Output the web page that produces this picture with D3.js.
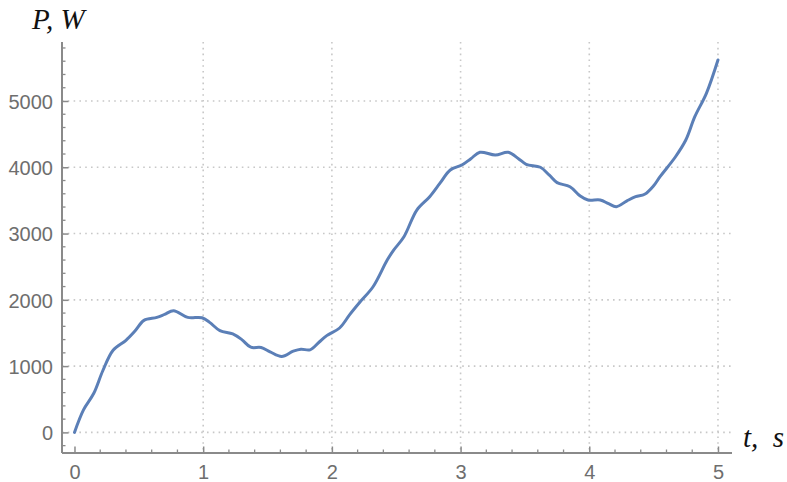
<!DOCTYPE html>
<html>
<head>
<meta charset="utf-8">
<script src="https://cdn.jsdelivr.net/npm/d3@7"></script>
<style>
  html, body { margin: 0; padding: 0; background: #fff; }
  svg { display: block; }
  .tick-label { font-family: "Liberation Sans", Arial, sans-serif; font-size: 20px; fill: #6e6e6e; }
  .axis-title { font-family: "Liberation Serif", "Times New Roman", serif; font-style: italic; font-size: 29px; fill: #111; white-space: pre; }
</style>
</head>
<body>
<svg id="chart" width="787" height="482"></svg>
<script>
// Power P (W) over time t (s)
const times = [0, 0.07, 0.15, 0.22, 0.30, 0.40, 0.47, 0.54, 0.64, 0.70, 0.77, 0.88, 0.99, 1.05, 1.13, 1.23, 1.30, 1.37, 1.45, 1.52, 1.61, 1.70, 1.76, 1.83, 1.90, 1.96, 2.06, 2.14, 2.22, 2.32, 2.43, 2.48, 2.56, 2.66, 2.76, 2.84, 2.92, 3.01, 3.08, 3.15, 3.27, 3.37, 3.45, 3.51, 3.62, 3.69, 3.75, 3.85, 3.93, 3.99, 4.085, 4.15, 4.21, 4.29, 4.36, 4.43, 4.50, 4.55, 4.67, 4.75, 4.82, 4.91, 5.0];
const power = [0, 340, 590, 930, 1240, 1390, 1530, 1690, 1735, 1780, 1836, 1735, 1730, 1660, 1535, 1485, 1400, 1285, 1280, 1215, 1145, 1225, 1255, 1245, 1360, 1460, 1575, 1780, 1970, 2197, 2600, 2750, 2952, 3355, 3556, 3760, 3959, 4034, 4130, 4226, 4185, 4226, 4130, 4045, 4000, 3880, 3768, 3707, 3566, 3506, 3506, 3450, 3405, 3490, 3556, 3592, 3720, 3858, 4159, 4411, 4763, 5116, 5619];
const xTicks = [0, 1, 2, 3, 4, 5];
const yTicks = [0, 1000, 2000, 3000, 4000, 5000];
const xMinor = d3.range(0, 5.001, 0.2);
const yMinor = d3.range(-200, 5801, 200);

const svg = d3.select("#chart");
const plotLeft = 62, plotRight = 732, plotTop = 42, plotBottom = 453;

const x = d3.scaleLinear().domain([-0.097, 5.109]).range([plotLeft, plotRight]);
const y = d3.scaleLinear().domain([-311, 5890]).range([plotBottom, plotTop]);

const gridColor = "#c8c8c8";
const axisColor = "#8a8a8a";

// dotted grid
svg.append("g").selectAll("line").data(xTicks.filter(d => d > 0)).join("line")
  .attr("x1", d => x(d)).attr("x2", d => x(d))
  .attr("y1", plotTop).attr("y2", plotBottom)
  .attr("stroke", gridColor).attr("stroke-width", 1.6)
  .attr("stroke-dasharray", "1.6,4.2");
svg.append("g").selectAll("line").data(yTicks).join("line")
  .attr("x1", plotLeft).attr("x2", plotRight)
  .attr("y1", d => y(d)).attr("y2", d => y(d))
  .attr("stroke", gridColor).attr("stroke-width", 1.6)
  .attr("stroke-dasharray", "1.6,4.2");

// axes with inward ticks
const xAxis = d3.axisBottom(x).tickValues(xTicks).tickSize(-6.5).tickFormat(d3.format("d"));
const yAxis = d3.axisLeft(y).tickValues(yTicks).tickSize(-6.5).tickFormat(d3.format("d"));

const gx = svg.append("g").attr("transform", `translate(0,${plotBottom})`).call(xAxis);
const gy = svg.append("g").attr("transform", `translate(${plotLeft},0)`).call(yAxis);

[gx, gy].forEach(g => {
  g.select(".domain").remove();
  g.attr("font-family", null).attr("font-size", null);
  g.selectAll(".tick line").attr("stroke", axisColor).attr("stroke-width", 1.5);
  g.selectAll(".tick text").attr("class", "tick-label").attr("fill", null);
});
gx.selectAll(".tick text").attr("dy", null).attr("y", 26);
gy.selectAll(".tick text").attr("x", -9).attr("dy", "0.36em");

// minor ticks
svg.append("g").selectAll("line").data(xMinor.filter(d => Math.abs(d - Math.round(d)) > 1e-6)).join("line")
  .attr("x1", d => x(d)).attr("x2", d => x(d))
  .attr("y1", plotBottom).attr("y2", plotBottom - 3.5)
  .attr("stroke", axisColor).attr("stroke-width", 1.3);
svg.append("g").selectAll("line").data(yMinor.filter(d => d % 1000 !== 0)).join("line")
  .attr("x1", plotLeft).attr("x2", plotLeft + 3.5)
  .attr("y1", d => y(d)).attr("y2", d => y(d))
  .attr("stroke", axisColor).attr("stroke-width", 1.3);

// axis lines
svg.append("line").attr("x1", plotLeft).attr("x2", plotRight).attr("y1", plotBottom).attr("y2", plotBottom)
  .attr("stroke", axisColor).attr("stroke-width", 2);
svg.append("line").attr("x1", plotLeft).attr("x2", plotLeft).attr("y1", plotTop).attr("y2", plotBottom)
  .attr("stroke", axisColor).attr("stroke-width", 2);

// curve
const pts = times.map((t, i) => [t, power[i]]);
const line = d3.line().x(d => x(d[0])).y(d => y(d[1])).curve(d3.curveCatmullRom.alpha(0.5));
svg.append("path").datum(pts).attr("d", line)
  .attr("fill", "none").attr("stroke", "#5b7fb7").attr("stroke-width", 3)
  .attr("stroke-linejoin", "round").attr("stroke-linecap", "round");

// axis titles
svg.append("text").attr("class", "axis-title").attr("x", 32).attr("y", 29).text("P, W");
svg.append("text").attr("class", "axis-title").attr("x", 743).attr("y", 447).text("t,  s");
</script>
</body>
</html>
